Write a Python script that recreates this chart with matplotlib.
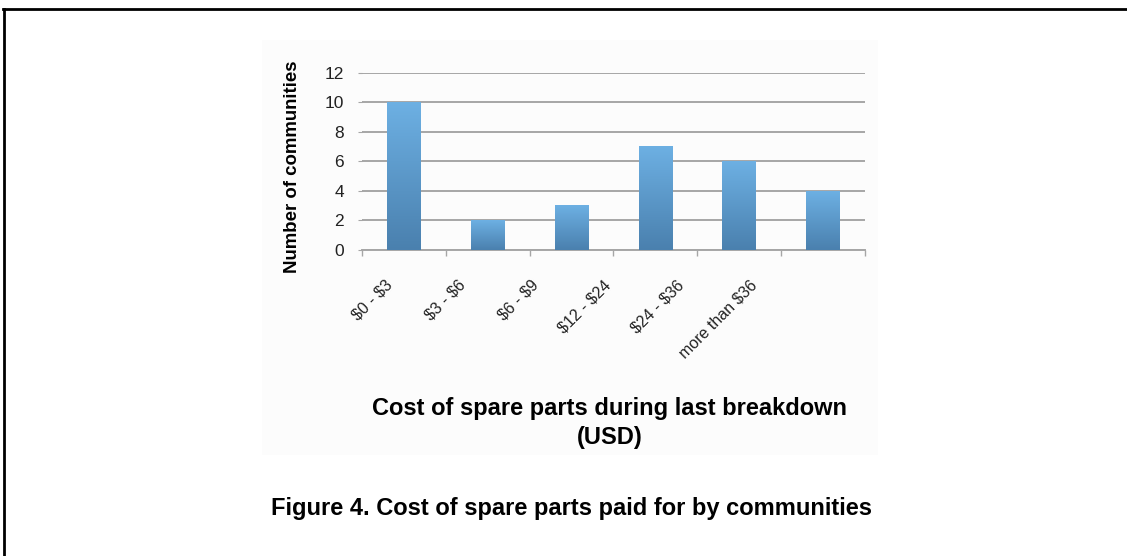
import numpy as np
import matplotlib.pyplot as plt
from matplotlib.colors import LinearSegmentedColormap
from matplotlib.patches import Rectangle

plt.rcParams['font.family'] = ['Liberation Sans', 'DejaVu Sans']
plt.rcParams['text.parse_math'] = False

# data
categories = ['$0 - $3', '$3 - $6', '$6 - $9', '$12 - $24', '$24 - $36', 'more than $36']
counts = [10, 2, 3, 7, 6, 4]
yticks = [0, 2, 4, 6, 8, 10, 12]

fig = plt.figure(figsize=(11.27, 5.56), dpi=100)

# very faint grey panel behind the pasted chart
fig.add_artist(Rectangle((262 / 1127, 1 - 455 / 556), 616 / 1127, 415 / 556,
                         transform=fig.transFigure, facecolor='#fcfcfc',
                         edgecolor='none', zorder=0))

ax = fig.add_axes([0.3212, 0.5504, 0.4463, 0.3183])
ax.patch.set_alpha(0)

# gradient fill for the bars, light on top, darker at the bottom
cmap = LinearSegmentedColormap.from_list('bar', ['#4a80ae', '#6db0e3'])
grad = np.linspace(0, 1, 256).reshape(-1, 1)
width = 0.4
for i, v in enumerate(counts):
    ax.imshow(grad, extent=[i - width / 2, i + width / 2, 0, v], origin='lower',
              aspect='auto', cmap=cmap, zorder=3)

ax.set_xlim(-0.5, len(categories) - 0.5)
ax.set_ylim(0, 12)
ax.set_yticks(yticks)
ax.yaxis.grid(True, color='#a6a6a6', linewidth=1.4, zorder=0)
ax.set_axisbelow(True)

for s in ['top', 'right', 'left']:
    ax.spines[s].set_visible(False)
ax.spines['bottom'].set_color('#a6a6a6')
ax.spines['bottom'].set_linewidth(1.4)

# ticks between categories on x
ax.set_xticks(np.arange(-0.5, len(categories), 1))
ax.set_xticklabels([])
ax.tick_params(axis='x', length=4, color='#a6a6a6', width=1)
ax.tick_params(axis='y', length=3, color='#a6a6a6', labelsize=12.5,
               labelcolor='#222222', pad=10)

# category labels, slanted; in the original they sit a bit tighter than the bars
for i, lab in enumerate(categories):
    ax.text(-0.17 + 0.871 * i, -0.185, lab, transform=ax.get_xaxis_transform(),
            rotation=45, ha='right', va='center', rotation_mode='anchor',
            fontsize=11.5, color='#222222')

ax.set_ylabel('Number of communities', fontsize=13.4, fontweight='bold')
ax.yaxis.set_label_coords(-0.122, 0.47)

fig.text(0.541, 0.239, 'Cost of spare parts during last breakdown\n(USD)',
         ha='center', va='center', fontsize=17, fontweight='bold',
         linespacing=1.32)

fig.text(0.507, 0.0863, 'Figure 4. Cost of spare parts paid for by communities',
         ha='center', va='center', fontsize=17, fontweight='bold')

# page frame lines (top and left only)
fig.add_artist(plt.Line2D([0.003, 1], [1 - 9 / 556, 1 - 9 / 556], color='black',
                          linewidth=2, transform=fig.transFigure))
fig.add_artist(plt.Line2D([0.0035, 0.0035], [0, 1 - 9 / 556], color='black',
                          linewidth=2, transform=fig.transFigure))

fig.savefig('out.png', dpi=100)
